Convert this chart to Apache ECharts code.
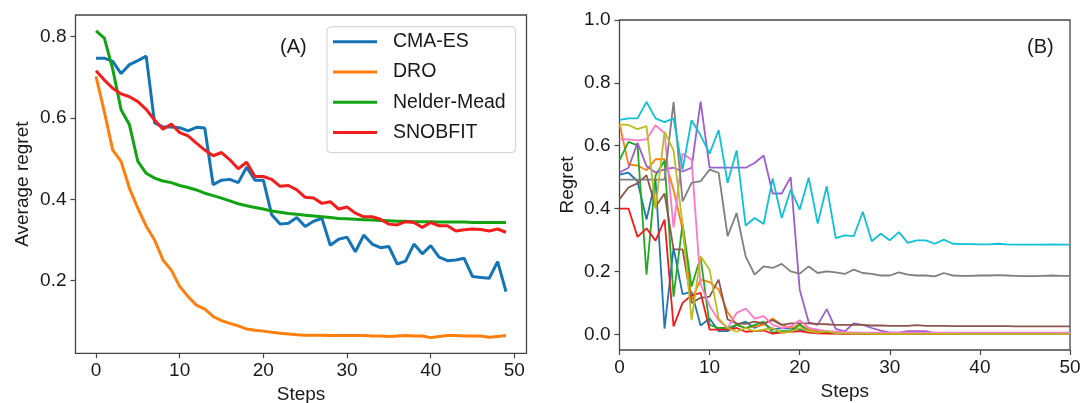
<!DOCTYPE html>
<html>
<head>
<meta charset="utf-8">
<script src="https://cdn.jsdelivr.net/npm/echarts@6/dist/echarts.min.js"></script>
<style>html,body{margin:0;padding:0;background:#fff}#c{width:1081px;height:403px}</style>
</head>
<body>
<div id="c"></div>
<script>
// ---------- Panel A data ----------
const stepsA = [0,1,2,3,4,5,6,7,8,9,10,11,12,13,14,15,16,17,18,19,20,21,22,23,24,25,26,27,28,29,30,31,32,33,34,35,36,37,38,39,40,41,42,43,44,45,46,47,48,49];
const cmaes = [0.747,0.747,0.739,0.709,0.731,0.741,0.752,0.588,0.578,0.578,0.576,0.568,0.577,0.575,0.436,0.447,0.449,0.441,0.479,0.447,0.447,0.362,0.339,0.341,0.355,0.333,0.346,0.353,0.287,0.302,0.307,0.271,0.312,0.290,0.281,0.284,0.241,0.248,0.290,0.266,0.286,0.258,0.249,0.251,0.255,0.210,0.208,0.206,0.247,0.173];
const dro = [0.702,0.615,0.521,0.493,0.427,0.378,0.334,0.300,0.251,0.226,0.186,0.161,0.140,0.130,0.112,0.102,0.095,0.089,0.081,0.078,0.076,0.073,0.071,0.069,0.067,0.066,0.066,0.066,0.065,0.065,0.065,0.065,0.065,0.064,0.064,0.063,0.064,0.065,0.064,0.064,0.060,0.063,0.065,0.065,0.064,0.064,0.064,0.061,0.063,0.065];
const nelder = [0.814,0.796,0.720,0.620,0.583,0.493,0.464,0.452,0.445,0.441,0.434,0.429,0.423,0.415,0.409,0.403,0.396,0.389,0.384,0.380,0.376,0.371,0.368,0.365,0.363,0.361,0.359,0.357,0.355,0.353,0.352,0.351,0.350,0.349,0.348,0.347,0.346,0.346,0.345,0.345,0.345,0.344,0.344,0.344,0.344,0.343,0.343,0.343,0.343,0.343];
const snobfit = [0.716,0.693,0.673,0.659,0.652,0.640,0.621,0.595,0.572,0.585,0.564,0.556,0.538,0.521,0.507,0.515,0.497,0.475,0.491,0.456,0.456,0.449,0.432,0.434,0.423,0.405,0.403,0.390,0.394,0.376,0.381,0.366,0.357,0.357,0.351,0.339,0.337,0.345,0.343,0.331,0.343,0.335,0.335,0.322,0.325,0.327,0.326,0.322,0.327,0.319];
const namesA = ['CMA-ES','DRO','Nelder-Mead','SNOBFIT'];
const colorsA = ['#1474b6','#ff7f0e','#12a312','#f21d1d'];
const xTicksA = [0,10,20,30,40,50];
const yTicksA = [0.2,0.4,0.6,0.8];

// ---------- Panel B data ----------
const stepsB = [0,1,2,3,4,5,6,7,8,9,10,11,12,13,14,15,16,17,18,19,20,21,22,23,24,25,26,27,28,29,30,31,32,33,34,35,36,37,38,39,40,41,42,43,44,45,46,47,48,49,50];
const rBlue   = [0.508,0.514,0.487,0.365,0.492,0.018,0.275,0.128,0.135,0.028,0.050,0.010,0.010,0.030,0.040,0.020,0.035,0.015,0.020,0.018,0.015,0.010,0.008,0.006,0.005,0.004,0.004,0.003,0.003,0.002,0.002,0.002,0.002,0.001,0.001,0.001,0.001,0.001,0.001,0.001,0.001,0.001,0.001,0.001,0.001,0.001,0.001,0.001,0.001,0.001,0.001];
const rOrange = [0.670,0.540,0.537,0.522,0.557,0.557,0.460,0.333,0.110,0.174,0.166,0.143,0.070,0.030,0.020,0.025,0.030,0.050,0.030,0.020,0.030,0.015,0.010,0.008,0.006,0.005,0.004,0.003,0.003,0.002,0.002,0.002,0.002,0.002,0.002,0.002,0.002,0.002,0.002,0.002,0.002,0.002,0.002,0.002,0.002,0.002,0.002,0.002,0.002,0.002,0.002];
const rGreen  = [0.554,0.612,0.601,0.190,0.505,0.552,0.120,0.352,0.152,0.245,0.030,0.020,0.020,0.030,0.020,0.030,0.040,0.005,0.010,0.010,0.030,0.010,0.005,0.004,0.003,0.002,0.002,0.002,0.001,0.001,0.001,0.001,0.001,0.001,0.001,0.001,0.001,0.001,0.001,0.001,0.001,0.001,0.001,0.001,0.001,0.001,0.001,0.001,0.001,0.001,0.001];
const rRed    = [0.400,0.400,0.310,0.337,0.298,0.365,0.025,0.100,0.124,0.132,0.015,0.015,0.015,0.020,0.008,0.010,0.012,0.002,0.005,0.008,0.010,0.005,0.003,0.002,0.002,0.001,0.001,0.001,0.001,0.001,0.001,0.001,0.001,0.001,0.001,0.001,0.001,0.001,0.001,0.001,0.001,0.001,0.001,0.001,0.001,0.001,0.001,0.001,0.001,0.001,0.001];
const rPurple = [0.515,0.530,0.609,0.535,0.515,0.525,0.530,0.518,0.530,0.740,0.530,0.530,0.530,0.530,0.530,0.545,0.569,0.448,0.448,0.500,0.142,0.038,0.030,0.080,0.017,0.009,0.035,0.030,0.020,0.012,0.005,0.005,0.010,0.010,0.010,0.003,0.002,0.002,0.001,0.001,0.001,0.001,0.001,0.001,0.001,0.001,0.001,0.001,0.001,0.001,0.001];
const rBrown  = [0.430,0.467,0.480,0.506,0.406,0.448,0.270,0.270,0.100,0.116,0.120,0.174,0.047,0.035,0.033,0.040,0.035,0.045,0.030,0.035,0.035,0.035,0.033,0.032,0.030,0.030,0.030,0.030,0.028,0.028,0.027,0.027,0.027,0.029,0.027,0.027,0.027,0.026,0.026,0.026,0.026,0.026,0.026,0.026,0.025,0.025,0.025,0.025,0.025,0.025,0.025];
const rPink   = [0.620,0.620,0.617,0.620,0.665,0.640,0.340,0.575,0.555,0.160,0.090,0.045,0.020,0.068,0.082,0.050,0.058,0.030,0.020,0.025,0.045,0.020,0.015,0.010,0.008,0.006,0.006,0.005,0.005,0.005,0.005,0.005,0.005,0.005,0.005,0.005,0.005,0.005,0.005,0.005,0.005,0.005,0.005,0.005,0.005,0.005,0.005,0.005,0.005,0.005,0.005];
const rGray   = [0.492,0.492,0.492,0.492,0.492,0.492,0.739,0.423,0.482,0.487,0.524,0.514,0.312,0.386,0.248,0.190,0.216,0.211,0.224,0.200,0.193,0.216,0.195,0.200,0.197,0.192,0.206,0.195,0.192,0.187,0.187,0.197,0.190,0.187,0.187,0.184,0.195,0.187,0.186,0.186,0.187,0.187,0.188,0.187,0.186,0.185,0.185,0.186,0.187,0.186,0.186];
const rOlive  = [0.667,0.666,0.653,0.662,0.400,0.645,0.585,0.350,0.045,0.248,0.205,0.050,0.020,0.008,0.020,0.010,0.015,0.020,0.005,0.008,0.020,0.010,0.005,0.010,0.004,0.003,0.002,0.002,0.001,0.001,0.001,0.001,0.001,0.001,0.001,0.001,0.001,0.001,0.001,0.001,0.001,0.001,0.001,0.001,0.001,0.001,0.001,0.001,0.001,0.001,0.001];
const rCyan   = [0.682,0.687,0.687,0.739,0.687,0.675,0.687,0.524,0.681,0.633,0.575,0.650,0.482,0.585,0.346,0.370,0.351,0.496,0.370,0.460,0.397,0.498,0.352,0.471,0.306,0.315,0.312,0.390,0.296,0.320,0.299,0.325,0.291,0.299,0.299,0.288,0.301,0.288,0.287,0.287,0.286,0.286,0.288,0.286,0.285,0.285,0.285,0.285,0.286,0.285,0.285];
const seriesB = [rBlue,rOrange,rGreen,rRed,rPurple,rBrown,rPink,rGray,rOlive,rCyan];
const colorsB = ['#1f77b4','#ff7f0e','#22a822','#ee1c1c','#9c5fcc','#8c564b','#ff77c8','#7f7f7f','#bcbd22','#10c0d6'];
const xTicksB = [0,10,20,30,40,50];
const yTicksB = [0.0,0.2,0.4,0.6,0.8,1.0];

const FONT = '"Liberation Sans", Arial, Helvetica, sans-serif';
const axisCol = '#444';
const txtCol = '#1a1a1a';

function pairs(xs, ys){ return ys.map((v,i)=>[xs[i], v]); }

function makeAxis(gridIndex, min, max, ticks, name, nameGap, isY, labelMargin){
  return {
    type:'value', gridIndex, min, max,
    name, nameLocation:'middle', nameGap,
    nameTextStyle:{fontFamily:FONT,fontSize:19,color:txtCol},
    axisLine:{show:false,onZero:false},
    splitLine:{show:false},
    axisTick:{show:true,length:5,inside:false,lineStyle:{color:axisCol,width:1.2},customValues:ticks},
    axisLabel:{fontFamily:FONT,fontSize:19,color:txtCol,margin:labelMargin,customValues:ticks,
      formatter: isY ? (v=>v.toFixed(1)) : (v=>String(Math.round(v)))}
  };
}

const chart = echarts.init(document.getElementById('c'), null, {renderer:'canvas'});
const seriesList = [];
[cmaes,dro,nelder,snobfit].forEach((arr,k)=>{
  seriesList.push({type:'line',name:namesA[k],xAxisIndex:0,yAxisIndex:0,data:pairs(stepsA,arr),
    showSymbol:false,symbol:'none',lineStyle:{width:3,color:colorsA[k]},itemStyle:{color:colorsA[k]},
    animation:false,z:2+k});
});
seriesB.forEach((arr,k)=>{
  seriesList.push({type:'line',xAxisIndex:1,yAxisIndex:1,data:pairs(stepsB,arr),
    showSymbol:false,symbol:'none',lineStyle:{width:1.8,color:colorsB[k]},
    animation:false,z:2+k});
});

chart.setOption({
  animation:false,
  backgroundColor:'#fff',
  grid:[
    {left:75.5,top:15,width:451,height:338.3,show:true,borderColor:axisCol,borderWidth:1.3,backgroundColor:'transparent',outerBoundsMode:'none',containLabel:false},
    {left:619.5,top:20,width:450.5,height:330,show:true,borderColor:axisCol,borderWidth:1.3,backgroundColor:'transparent',outerBoundsMode:'none',containLabel:false}
  ],
  xAxis:[
    makeAxis(0,-2.45,51.45,xTicksA,'Steps',30,false,8),
    makeAxis(1,0,50,xTicksB,'Steps',30,false,8)
  ],
  yAxis:[
    makeAxis(0,0.0215,0.853,yTicksA,'Average regret',43,true,9),
    makeAxis(1,-0.05,1.0,yTicksB,'Regret',42,true,9)
  ],
  legend:{
    show:true, orient:'vertical', left:327, top:26.7,
    data:namesA,
    icon:'path://M0,0 L44,0 L44,3 L0,3 Z',
    itemWidth:44, itemHeight:14, itemGap:8.3,
    padding:[4,10,9,6],
    backgroundColor:'#fff', borderColor:'#d0d0d0', borderWidth:1, borderRadius:4,
    textStyle:{fontFamily:FONT,fontSize:19.5,color:txtCol,lineHeight:20,padding:[2,0,0,11]}
  },
  graphic:[
    {type:'text',left:280,top:37,style:{text:'(A)',font:'20px '+FONT,fill:txtCol}},
    {type:'text',left:1027,top:37,style:{text:'(B)',font:'20px '+FONT,fill:txtCol}}
  ],
  series:seriesList
});
</script>
</body>
</html>
